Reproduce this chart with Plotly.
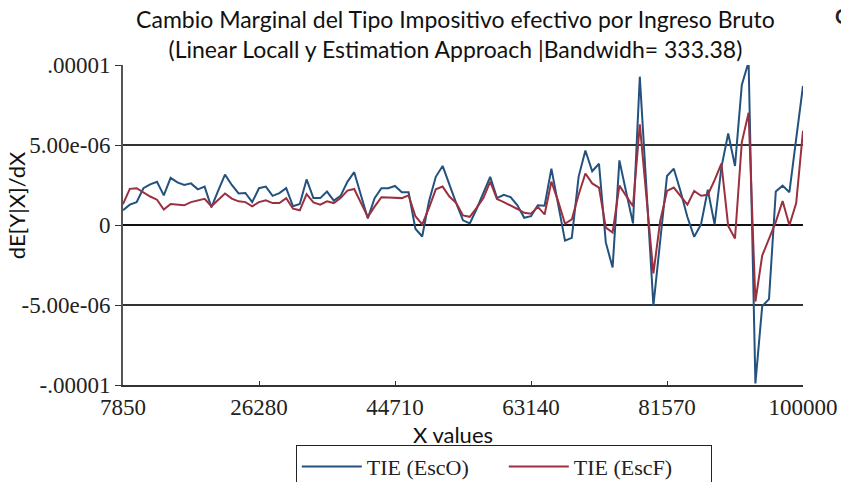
import numpy as np
import plotly.graph_objects as go

# valores (en unidades de 1e-6)
x_start, x_end, n_pts = 7850, 100000, 101
tie_esco = [0.92, 1.27, 1.43, 2.3, 2.54, 2.7, 1.85, 2.95, 2.66, 2.5,
            2.6, 2.23, 2.4, 1.1, 2.15, 3.15, 2.5, 1.97, 2.0, 1.43,
            2.3, 2.4, 1.82, 1.99, 2.3, 1.17, 1.31, 2.85, 1.68, 1.68,
            2.09, 1.52, 1.82, 2.7, 3.3, 1.87, 0.41, 1.68, 2.3, 2.3,
            2.44, 2.05, 2.05, -0.23, -0.72, 1.48, 3.01, 3.69, 2.5, 1.37,
            0.29, 0.1, 1.0, 2.0, 3.01, 1.68, 1.89, 1.74, 1.23, 0.45,
            0.55, 1.23, 1.2, 3.52, 1.3, -0.98, -0.8, 3.01, 4.66, 3.36,
            3.83, -1.09, -2.66, 4.04, 2.05, 0.1, 9.27, 2.1, -5.04, -1.0,
            3.06, 3.52, 2.1, 0.5, -0.74, 0.04, 2.2, 0.04, 3.6, 5.72,
            3.69, 8.75, 10.2, -9.9, -5.08, -4.63, 2.09, 2.46, 2.05, 5.4,
            8.69]
tie_escf = [1.3, 2.26, 2.3, 2.03, 1.78, 1.58, 0.96, 1.31, 1.27, 1.23,
            1.43, 1.54, 1.64, 1.17, 1.58, 1.97, 1.65, 1.48, 1.43, 1.17,
            1.43, 1.54, 1.37, 1.37, 1.68, 1.02, 0.92, 1.93, 1.41, 1.27,
            1.48, 1.37, 1.68, 2.15, 2.25, 1.37, 0.51, 1.15, 1.74, 1.72,
            1.7, 1.68, 1.85, 0.55, 0.04, 1.07, 2.23, 2.4, 1.78, 1.37,
            0.6, 0.51, 1.07, 1.68, 2.71, 1.62, 1.43, 1.23, 1.0, 0.76,
            0.7, 1.13, 0.66, 2.71, 1.48, 0.08, 0.35, 1.89, 3.22, 2.6,
            2.34, -0.16, -0.47, 2.46, 1.78, 1.17, 6.29, 1.6, -3.03, 0.25,
            2.13, 2.34, 1.78, 1.27, 2.13, 1.83, 1.89, 2.8, 3.83, -0.06,
            -0.84, 5.17, 7.01, -4.78, -1.91, -0.9, 0.2, 1.5, -0.02, 1.37,
            5.89]

x_ticks = [7850, 26280, 44710, 63140, 81570, 100000]
y_ticks = [-1e-5, -5e-6, 0, 5e-6, 1e-5]
y_ticktext = ["-.00001", "-5.00e-06", "0", "5.00e-06", ".00001"]

xs = np.linspace(x_start, x_end, n_pts)
serif = "Liberation Serif"
sans = "Lato"

fig = go.Figure()
fig.add_trace(go.Scatter(x=xs, y=[v * 1e-6 for v in tie_esco], mode="lines",
                         name="TIE (EscO)", line=dict(color="#24527f", width=2)))
fig.add_trace(go.Scatter(x=xs, y=[v * 1e-6 for v in tie_escf], mode="lines",
                         name="TIE (EscF)", line=dict(color="#9b3040", width=2)))

# la pagina tiene margen de 8px en el body, se compensa en los margenes
fig.update_layout(
    width=849, height=482,
    paper_bgcolor="white", plot_bgcolor="white",
    margin=dict(l=115, r=54, t=57, b=105),
    title=dict(text="Cambio Marginal del Tipo Impositivo efectivo por Ingreso Bruto<br>"
                    "(Linear Locall y Estimation Approach |Bandwidh= 333.38)",
               x=0.527, xanchor="center", y=0.958, yanchor="top",
               font=dict(family=sans, size=23, color="#111")),
    legend=dict(orientation="h", x=0.56, xanchor="center",
                yref="container", y=0.094, yanchor="top",
                bordercolor="#222", borderwidth=1, itemwidth=60, entrywidth=132,
                font=dict(family=serif, size=22, color="#222")),
    showlegend=True,
)
fig.update_xaxes(range=[x_start, x_end], tickvals=x_ticks, ticktext=[str(t) for t in x_ticks],
                 showgrid=False, zeroline=False, showline=True, linecolor="#333", linewidth=2,
                 ticks="inside", ticklen=4, tickcolor="#333", automargin=False,
                 tickfont=dict(family=serif, size=23, color="#222"))
fig.update_yaxes(range=[-1e-5, 1e-5], tickvals=y_ticks, ticktext=y_ticktext,
                 showgrid=True, gridcolor="#333", gridwidth=1.5,
                 zeroline=True, zerolinecolor="#111", zerolinewidth=1.5,
                 showline=True, linecolor="#555", linewidth=2,
                 ticks="outside", ticklen=6, tickcolor="#333", automargin=False,
                 tickfont=dict(family=serif, size=23, color="#222"))

# titulos de ejes como anotaciones (posicion igual que en la imagen)
fig.add_annotation(text="X values", xref="paper", yref="paper", x=0.485, y=-0.154,
                   xanchor="center", yanchor="middle", showarrow=False,
                   font=dict(family=sans, size=22, color="#111"))
fig.add_annotation(text="dE[Y|X]/dX", xref="paper", yref="paper", x=-0.157, y=0.5625,
                   xanchor="center", yanchor="middle", showarrow=False, textangle=-90,
                   font=dict(family=sans, size=22, color="#111"))
fig.add_annotation(text="<b>G</b>", xref="paper", yref="paper", x=1.044, xanchor="left",
                   y=1.153, yanchor="middle", showarrow=False,
                   font=dict(family=sans, size=20, color="#222"))

fig.write_html("out.html")
